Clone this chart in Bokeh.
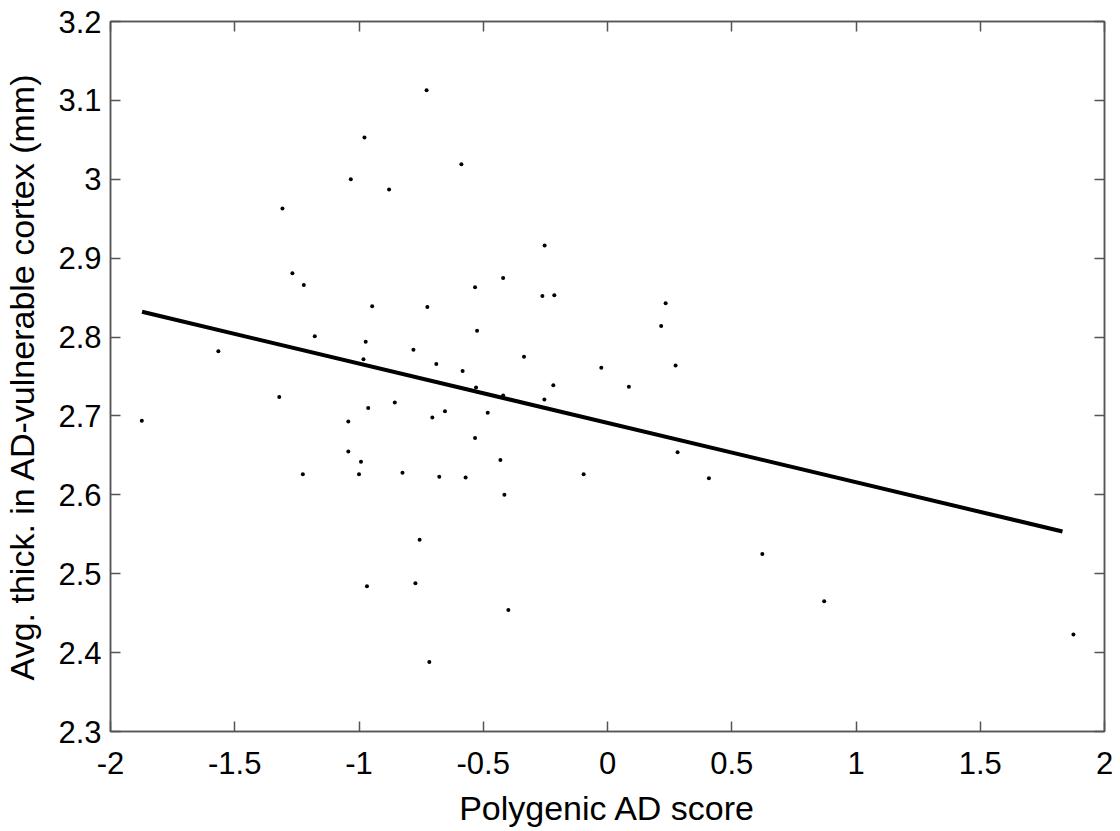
from bokeh.plotting import figure
from bokeh.models import LinearAxis, FixedTicker, Range1d
from bokeh.embed import file_html
from bokeh.resources import INLINE

score = [-1.308, -1.033, -0.978, -0.879, -0.728, -0.588, -1.874, -1.566, -1.321, -1.268,
         -1.222, -1.226, -1.178, -1.043, -1.043, -0.992, -1.000, -0.982, -0.973, -0.963,
         -0.947, -0.856, -0.825, -0.781, -0.725, -0.705, -0.689, -0.677, -0.654, -0.583,
         -0.571, -0.533, -0.525, -0.529, -0.482, -0.533, -0.431, -0.968, -0.773, -0.756,
         -0.717, -0.253, -0.420, -0.262, -0.214, 0.234, 0.216, -0.336, -0.025, 0.274,
         -0.218, 0.086, -0.420, -0.254, -0.096, 0.282, 0.408, -0.415, -0.399, 0.623,
         0.872, 1.875]
thickness = [2.963, 3.000, 3.053, 2.987, 3.113, 3.019, 2.694, 2.782, 2.724, 2.881,
             2.866, 2.626, 2.801, 2.693, 2.655, 2.642, 2.626, 2.772, 2.794, 2.710,
             2.839, 2.717, 2.628, 2.784, 2.838, 2.698, 2.766, 2.623, 2.706, 2.757,
             2.622, 2.863, 2.808, 2.736, 2.704, 2.672, 2.644, 2.484, 2.488, 2.543,
             2.388, 2.916, 2.875, 2.852, 2.853, 2.843, 2.814, 2.775, 2.761, 2.764,
             2.739, 2.737, 2.726, 2.721, 2.626, 2.654, 2.621, 2.600, 2.454, 2.525,
             2.465, 2.423]

fit_x = [-1.873, 1.831]
fit_y = [2.832, 2.5535]

x_ticks = [-2, -1.5, -1, -0.5, 0, 0.5, 1, 1.5, 2]
x_tick_labels = ["-2", "-1.5", "-1", "-0.5", "0", "0.5", "1", "1.5", "2"]
y_ticks = [2.3, 2.4, 2.5, 2.6, 2.7, 2.8, 2.9, 3.0, 3.1, 3.2]
y_tick_labels = ["2.3", "2.4", "2.5", "2.6", "2.7", "2.8", "2.9", "3", "3.1", "3.2"]

FONT = "Liberation Sans"
AXCOL = "#555555"

p = figure(frame_width=994, frame_height=710,
           x_range=Range1d(-2, 2), y_range=Range1d(2.3, 3.2),
           output_backend="svg", toolbar_location=None,
           min_border_left=101, min_border_right=9, min_border_top=21, min_border_bottom=96,
           x_axis_label="Polygenic AD score",
           y_axis_label="Avg. thick. in AD-vulnerable cortex (mm)")
p.background_fill_color = "white"
p.border_fill_color = "white"
p.grid.visible = False
p.outline_line_color = AXCOL
p.outline_line_width = 1.5


def style_axis(ax, ticks, labels, show_labels=True):
    ax.ticker = FixedTicker(ticks=ticks)
    ax.major_label_overrides = {t: l for t, l in zip(ticks, labels)}
    ax.major_tick_in = 10
    ax.major_tick_out = 0
    ax.minor_tick_in = 0
    ax.minor_tick_out = 0
    ax.major_tick_line_color = AXCOL
    ax.major_tick_line_width = 1.5
    ax.axis_line_color = AXCOL
    ax.axis_line_width = 1.5
    ax.major_label_text_font = FONT
    ax.major_label_text_font_size = "31px"
    ax.major_label_text_color = "black" if show_labels else None
    ax.axis_label_text_font = FONT
    ax.axis_label_text_font_size = "34px"
    ax.axis_label_text_font_style = "normal"
    ax.axis_label_text_color = "black"


xa = p.xaxis[0]
ya = p.yaxis[0]
style_axis(xa, x_ticks, x_tick_labels)
style_axis(ya, y_ticks, y_tick_labels)
xa.major_label_standoff = 20
xa.axis_label_standoff = 12
ya.major_label_standoff = 9
ya.axis_label_standoff = 14

top_ax = LinearAxis()
style_axis(top_ax, x_ticks, x_tick_labels, show_labels=False)
top_ax.major_label_text_font_size = "0px"
top_ax.major_label_standoff = 0
p.add_layout(top_ax, "above")

right_ax = LinearAxis()
style_axis(right_ax, y_ticks, y_tick_labels, show_labels=False)
right_ax.major_label_text_font_size = "0px"
right_ax.major_label_standoff = 0
p.add_layout(right_ax, "right")

p.line(fit_x, fit_y, line_color="black", line_width=4)
p.scatter(score, thickness, size=4, fill_color="black", line_color=None)

open("out.html", "w").write(file_html(p, INLINE))
